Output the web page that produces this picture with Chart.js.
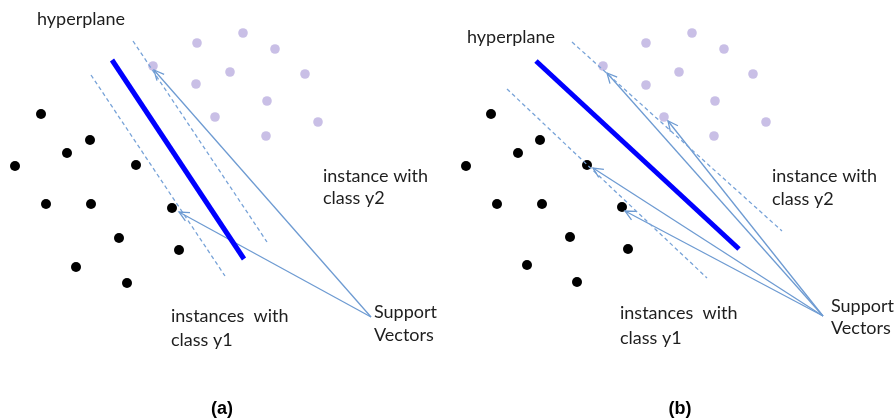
<!DOCTYPE html>
<html>
<head>
<meta charset="utf-8">
<script src="https://cdn.jsdelivr.net/npm/chart.js@4/dist/chart.umd.min.js"></script>
<style>
html,body{margin:0;padding:0;background:#fff;}
#wrap{width:896px;height:419px;position:relative;}
</style>
</head>
<body>
<div id="wrap"><canvas id="c" width="896" height="419"></canvas></div>
<script>
// ---- Data (in picture units) ----
const purpleA = [[197,43],[243,33],[275,49],[153,66],[230,72],[305,74],[196,84],[267,101],[215,117],[318,122],[266,136]];
const blackA  = [[41,114],[90,140],[67,153],[15,166],[136,165],[46,204],[91,204],[172,208],[119,238],[179,250],[76,267],[127,283]];
const purpleB = [[646,43],[692,33],[724,49],[603,66],[679,72],[753,74],[646,85],[715,101],[664,117],[766,122],[714,136]];
const blackB  = [[491,114],[540,140],[518,153],[466,166],[587,165],[497,204],[542,204],[622,207],[570,237],[628,249],[527,265],[577,282]];

const hyperplaneA = [[112,60],[244,259]];
const marginsA = [[[91,75],[225,276]], [[133,41],[267,242]]];
const hyperplaneB = [[536,61],[739,249]];
const marginsB = [[[507,89],[707,278]], [[572,42],[782,231]]];

const arrowOriginA = [371,317];
const arrowTipsA = [[154,70],[179,212]];
const arrowOriginB = [823,316];
const arrowTipsB = [[607,73],[668,121],[593,168],[625,211]];

const labelTexts = ["hyperplane","instance with","class y2","instances  with","class y1","Support","Vectors",
                    "hyperplane","instance with","class y2","instances  with","class y1","Support","Vectors"];
const labelAnchors = [[37,25],[323,182],[323,204],[171,322],[171,346],[374,318],[374,341],
                      [467,43],[772,182],[772,205],[620,319],[620,344],[831,312],[831,334]];
const panelLabels = ["(a)","(b)"];
const panelAnchors = [[222,409],[680,409]];

// ---- Build datasets ----
const toXY = a => a.map(p => ({x:p[0], y:p[1]}));
const datasets = [];
function addLine(pts, color, width, dash, extra){
  datasets.push(Object.assign({data:toXY(pts), showLine:true, borderColor:color, borderWidth:width,
    borderDash:dash||[], pointRadius:0, fill:false, tension:0, clip:false}, extra||{}));
}
[marginsA, marginsB].forEach(ms => ms.forEach(m => addLine(m, '#78a3d8', 1.3, [4,3])));
addLine(hyperplaneA, '#0000ff', 5, null, {borderCapStyle:'butt'});
addLine(hyperplaneB, '#0000ff', 5, null, {borderCapStyle:'butt'});
arrowTipsA.forEach(t => addLine([arrowOriginA, t], '#6e9bd2', 1.3, null, {arrow:true}));
arrowTipsB.forEach(t => addLine([arrowOriginB, t], '#6e9bd2', 1.3, null, {arrow:true}));
[purpleA, purpleB].forEach(p => datasets.push({data:toXY(p), pointRadius:4.8, pointBackgroundColor:'#c9bfe6', pointBorderWidth:0, showLine:false, clip:false}));
[blackA, blackB].forEach(p => datasets.push({data:toXY(p), pointRadius:5, pointBackgroundColor:'#000000', pointBorderWidth:0, showLine:false, clip:false}));

const arrowHeads = {
  id:'arrowHeads',
  afterDatasetsDraw(chart){
    const ctx = chart.ctx;
    chart.data.datasets.forEach((ds,i) => {
      if(!ds.arrow) return;
      const pts = chart.getDatasetMeta(i).data;
      const a = pts[0], b = pts[pts.length-1];
      const ang = Math.atan2(b.y-a.y, b.x-a.x);
      const L = 11, w = 0.45;
      ctx.save();
      ctx.strokeStyle = ds.borderColor; ctx.lineWidth = 1.3;
      ctx.beginPath();
      ctx.moveTo(b.x - L*Math.cos(ang-w), b.y - L*Math.sin(ang-w));
      ctx.lineTo(b.x, b.y);
      ctx.lineTo(b.x - L*Math.cos(ang+w), b.y - L*Math.sin(ang+w));
      ctx.stroke();
      ctx.restore();
    });
  }
};
const textLabels = {
  id:'textLabels',
  afterDraw(chart){
    const ctx = chart.ctx, sx = chart.scales.x, sy = chart.scales.y;
    ctx.save();
    ctx.fillStyle = '#1e1e1e';
    ctx.font = '18px Lato';
    ctx.textBaseline = 'alphabetic'; ctx.textAlign = 'left';
    labelTexts.forEach((t,i) => ctx.fillText(t, sx.getPixelForValue(labelAnchors[i][0]), sy.getPixelForValue(labelAnchors[i][1])));
    ctx.font = 'bold 18px "Liberation Sans"';
    ctx.fillStyle = '#000';
    ctx.textAlign = 'center'; ctx.textBaseline = 'middle';
    panelLabels.forEach((t,i) => ctx.fillText(t, sx.getPixelForValue(panelAnchors[i][0]), sy.getPixelForValue(panelAnchors[i][1])));
    ctx.restore();
  }
};

new Chart(document.getElementById('c'), {
  type:'scatter',
  data:{datasets},
  options:{
    responsive:false, animation:false, devicePixelRatio:1,
    layout:{padding:0, autoPadding:false},
    plugins:{legend:{display:false}, tooltip:{enabled:false}},
    scales:{
      x:{type:'linear', min:0, max:896, display:false},
      y:{type:'linear', min:0, max:419, reverse:true, display:false}
    }
  },
  plugins:[arrowHeads, textLabels]
});
</script>
</body>
</html>
